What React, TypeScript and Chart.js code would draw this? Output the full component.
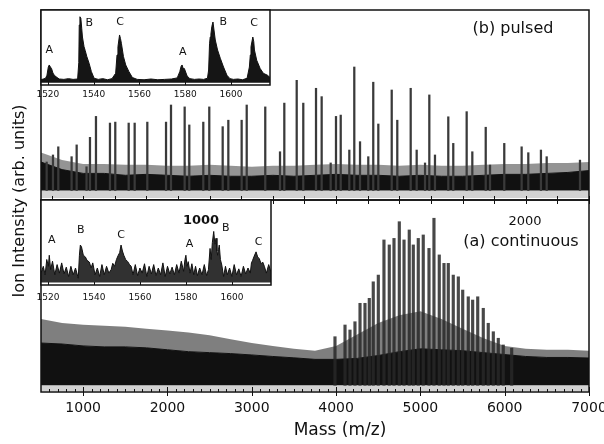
import { useEffect, useRef } from 'react';
import { Chart, registerables } from 'chart.js';
import type { ChartConfiguration, Plugin } from 'chart.js';

Chart.register(...registerables);

const FONT = '"DejaVu Sans", "Liberation Sans", sans-serif';

// Axis tick labels (m/z)
const MASS_TICKS = [1000, 2000, 3000, 4000, 5000, 6000, 7000];
const INSET_TICKS = [1520, 1540, 1560, 1580, 1600];

// (b) pulsed: cluster peak positions (m/z) and heights (arb. units)
const PULSED_MASS = [
  567, 642, 705, 863, 923, 1040, 1081, 1152, 1318, 1381, 1540, 1611, 1761, 1983, 2042,
  2204, 2259, 2425, 2496, 2655, 2722, 2880, 2940, 3160, 3335, 3386, 3533, 3611, 3762,
  3829, 3936, 3999, 4055, 4157, 4216, 4284, 4382, 4441, 4501, 4660, 4726, 4885, 4956,
  5055, 5106, 5173, 5331, 5390, 5549, 5616, 5775, 5826, 5995, 6201, 6280, 6430, 6498, 6893,
];
const PULSED_HEIGHT = [
  20, 23.7, 28, 22.8, 29, 17.5, 33, 44, 40.5, 41, 40.5, 40.5, 41, 41, 50,
  49, 39.5, 41, 49, 38.6, 42, 42, 50, 49, 25.4, 51, 63, 51, 58.8,
  54.4, 19.5, 44, 44.7, 26.3, 70, 30.7, 22.8, 62, 40, 57.9, 42, 58.8, 26.3,
  19.5, 55.3, 23.7, 43.8, 29.8, 46.5, 25.4, 38.3, 18.4, 29.8, 28, 24.9, 26.3, 22.8, 21,
];

// (a) continuous: cluster peak positions (m/z) and heights (arb. units)
const CONT_MASS = [
  3987, 4106, 4165, 4224, 4284, 4343, 4394, 4441, 4501, 4568, 4631, 4687, 4750, 4806,
  4868, 4916, 4975, 5034, 5102, 5161, 5224, 5280, 5331, 5390, 5450, 5502, 5568, 5620,
  5680, 5746, 5805, 5865, 5924, 5983, 6083,
];
const CONT_HEIGHT = [
  28.8, 34.9, 32.3, 36.6, 46.2, 46.2, 48.8, 57.4, 60.9, 79.2, 76.6, 80, 88.7, 79.2,
  84.4, 76.6, 80, 81.8, 74.8, 90.5, 71.4, 67, 67, 60.9, 60, 53.1, 49.6, 47.9,
  49.6, 43.6, 35.8, 31.4, 28, 24.5, 22.8,
];

// Noise envelope of both spectra, sampled along m/z
const ENV_MASS = [
  500, 750, 1000, 1250, 1500, 1750, 2000, 2250, 2500, 2750, 3000, 3250, 3500, 3750,
  4000, 4250, 4500, 4750, 5000, 5250, 5500, 5750, 6000, 6250, 6500, 6750, 7000,
];
const PULSED_NOISE_TOP = [
  20, 16, 14, 14, 13, 13.5, 13, 12.5, 13, 12.5, 12.5, 13, 12.5, 13,
  13.5, 13, 13, 12.5, 13, 12.5, 12.5, 13, 13.5, 13.5, 14, 14.5, 15.5,
];
const PULSED_SPIKE_TOP = [
  25, 21, 19, 19, 18.5, 18.5, 18, 18, 18.5, 18, 17.5, 18, 18, 18.5,
  19, 18.5, 18.5, 18, 18.5, 18, 18, 18.5, 19, 19, 19.5, 19.5, 20,
];
const CONT_NOISE_TOP = [
  25.5, 25, 24, 23.5, 23.5, 23, 22, 21, 20.5, 20, 19.3, 18.5, 17.8, 17,
  17, 17.5, 19, 21, 22.5, 22, 21.5, 20.5, 19.5, 18.5, 18, 18, 17.7,
];
const CONT_SPIKE_TOP = [
  38, 36, 35, 34.5, 34, 33, 32, 31, 29.5, 27.5, 25.5, 24, 22.5, 21.5,
  24, 30, 36, 40, 42, 38, 33, 28, 24, 22.5, 22, 22, 21.5,
];

// Inset traces, m/z 1517-1617: [m/z, intensity]
const PULSED_INSET: [number, number][] = [
  [1517, 7], [1518, 8], [1519, 9], [1519.6, 13], [1520.2, 24], [1520.6, 26.7], [1521.1, 24],
  [1521.6, 22], [1522.2, 16], [1522.8, 13], [1524, 10], [1525, 8], [1527, 7.5], [1529, 8.5],
  [1531, 7.5], [1533, 8], [1533.5, 30], [1533.7, 80], [1534.0, 91], [1534.4, 89], [1534.8, 75],
  [1535.1, 64], [1535.8, 51], [1536.3, 46], [1537, 38], [1538, 29], [1539, 17.8], [1540.2, 9],
  [1542, 7.5], [1544, 8.5], [1546, 7], [1548, 8.5], [1549.6, 15.6], [1550.2, 40], [1550.6, 51],
  [1551.3, 66.7], [1551.7, 62], [1552.1, 55.6], [1553, 38], [1554, 26.7], [1555.4, 17.8],
  [1556.9, 10], [1559, 7.5], [1562, 7], [1565, 8], [1568, 7], [1571, 7.5], [1574, 8],
  [1576.5, 9.5], [1577.6, 17.8], [1578.2, 25], [1578.6, 26.7], [1579.1, 22], [1579.6, 22],
  [1580.8, 12], [1582, 8.5], [1584, 7.5], [1586, 8], [1588, 7.5], [1589.7, 9], [1590.2, 20],
  [1590.6, 55], [1590.9, 64], [1591.2, 68], [1591.6, 78], [1592.1, 84], [1592.6, 72],
  [1593.1, 60], [1594.1, 46.7], [1595.3, 35.6], [1596.7, 24], [1598.2, 13], [1599.5, 8.5],
  [1601, 7.5], [1603, 8], [1605, 7], [1607, 9], [1608, 24], [1608.4, 40], [1608.7, 51],
  [1609.5, 64], [1609.9, 58], [1610.2, 46.7], [1611.2, 33], [1612.7, 22], [1614.1, 15.6],
  [1615.9, 13], [1617, 10],
];
const CONT_INSET: [number, number][] = [
  [1517, 14], [1518, 22], [1518.8, 12], [1519.5, 30], [1520.2, 22], [1520.6, 35], [1521.2, 18],
  [1522, 28], [1523, 12], [1524, 24], [1525, 14], [1526, 26], [1527, 13], [1528, 21], [1529, 10],
  [1530, 22], [1531, 12], [1532, 20], [1533.2, 8], [1533.7, 35], [1534.1, 47], [1534.6, 45],
  [1535.4, 35], [1536.3, 33], [1537, 29], [1538, 27], [1538.8, 20], [1539.5, 26], [1540.5, 12],
  [1541.5, 20], [1542.5, 10], [1543.5, 24], [1544.5, 12], [1545.5, 22], [1546.5, 14],
  [1547.5, 18], [1548.2, 25.5], [1549, 22], [1549.8, 30], [1550.6, 35], [1551.2, 38],
  [1551.8, 47], [1552.4, 40], [1553, 35], [1553.8, 30], [1554.7, 27.5], [1555.5, 24],
  [1556.2, 22], [1557, 12], [1558, 24], [1559, 11], [1560, 20], [1561, 14], [1562, 25],
  [1563, 10], [1564, 22], [1565, 13], [1566, 24], [1567, 11], [1568, 20], [1569, 12],
  [1570, 26], [1571, 10], [1572, 22], [1573, 13], [1574, 21], [1575, 12], [1576, 24],
  [1577, 14], [1578, 28], [1579, 16], [1579.6, 30], [1580, 35], [1580.5, 22], [1581, 27.5],
  [1581.8, 14], [1582.6, 25], [1583.4, 12], [1584.2, 22], [1585, 11], [1586, 20], [1587, 12],
  [1588, 24], [1589, 11], [1589.8, 18], [1590.5, 43], [1591, 30], [1591.5, 50], [1592.1, 63],
  [1592.6, 48], [1593.1, 55], [1593.5, 40], [1593.8, 35], [1594.2, 42], [1594.5, 47],
  [1595, 30], [1595.6, 23.5], [1596.4, 10], [1597.2, 22], [1598, 12], [1599, 20], [1600, 10],
  [1601, 24], [1602, 12], [1603, 19], [1604, 10], [1605, 22], [1606, 13], [1607, 20],
  [1608, 14], [1608.5, 26], [1609, 29], [1609.7, 34], [1610.5, 39], [1611.2, 33],
  [1611.9, 31], [1612.7, 25], [1613.4, 27], [1614.1, 22], [1615, 14], [1616, 24], [1617, 15],
];

// Peak-series labels in the insets: [letter, m/z, intensity]
const PULSED_INSET_LABELS: [string, number, number][] = [
  ['A', 1520.6, 46.7], ['B', 1538.1, 82], ['C', 1551.5, 84.4],
  ['A', 1578.9, 44.4], ['B', 1596.6, 84.4], ['C', 1610, 82],
];
const CONT_INSET_LABELS: [string, number, number][] = [
  ['A', 1521.7, 52.9], ['B', 1534.3, 64.7], ['C', 1551.8, 58.8],
  ['A', 1581.6, 47.9], ['B', 1597.3, 66.7], ['C', 1611.6, 50.9],
];

function steps(from: number, to: number, step: number): number[] {
  const out: number[] = [];
  for (let v = from; step > 0 ? v <= to : v >= to; v += step) out.push(v);
  return out;
}
const MINOR_TICKS = steps(600, 6900, 100);
const MID_TICKS = steps(7000, 600, -375);

interface TickRow { edge: 'top' | 'bottom'; values: number[]; inward: number; outward: number }
interface TextItem { text: string; x: number; y: number; size: number; bold?: boolean; rotate?: boolean }
interface DecorOptions {
  whiteBg?: boolean;
  ticks: TickRow[];
  texts?: TextItem[];
  peakLabels?: [string, number, number][];
  peakLabelSize?: number;
}

function decor(id: string, o: DecorOptions): Plugin {
  return {
    id,
    beforeDraw(chart) {
      if (!o.whiteBg) return;
      const { ctx, chartArea: a } = chart;
      ctx.save();
      ctx.fillStyle = '#ffffff';
      ctx.fillRect(a.left, a.top, a.right - a.left, a.bottom - a.top);
      ctx.restore();
    },
    afterDraw(chart) {
      const { ctx, chartArea: a } = chart;
      const xs = chart.scales.x;
      const ys = chart.scales.y;
      ctx.save();
      ctx.strokeStyle = '#111';
      ctx.lineWidth = 1.5;
      ctx.strokeRect(a.left, a.top, a.right - a.left, a.bottom - a.top);
      ctx.lineWidth = 1;
      for (const row of o.ticks) {
        const edgeY = row.edge === 'top' ? a.top : a.bottom;
        const dir = row.edge === 'top' ? 1 : -1;
        ctx.beginPath();
        for (const v of row.values) {
          const px = Math.round(xs.getPixelForValue(v)) + 0.5;
          ctx.moveTo(px, edgeY - dir * row.outward);
          ctx.lineTo(px, edgeY + dir * row.inward);
        }
        ctx.stroke();
      }
      ctx.fillStyle = '#111';
      ctx.textAlign = 'center';
      ctx.textBaseline = 'middle';
      for (const t of o.texts ?? []) {
        ctx.font = `${t.bold ? 'bold ' : ''}${t.size}px ${FONT}`;
        if (t.rotate) {
          ctx.save();
          ctx.translate(t.x, t.y);
          ctx.rotate(-Math.PI / 2);
          ctx.fillText(t.text, 0, 0);
          ctx.restore();
        } else {
          ctx.fillText(t.text, t.x, t.y);
        }
      }
      ctx.font = `${o.peakLabelSize ?? 11}px ${FONT}`;
      for (const [text, m, v] of o.peakLabels ?? []) {
        ctx.fillText(text, xs.getPixelForValue(m), ys.getPixelForValue(v));
      }
      ctx.restore();
    },
  };
}

interface SpectrumParams {
  mass: number[];
  height: number[];
  floor: number;
  combLow: number;
  noiseTop: number[];
  spikeTop: number[];
  stickWidth: number;
  stickColor: string;
  hazeColor: string;
  padTop: number;
  padBottom: number;
  showAxis: boolean;
  plugin: Plugin;
}

function spectrumConfig(p: SpectrumParams): ChartConfiguration {
  const xAxis: any = {
    type: 'linear',
    min: 500,
    max: 7000,
    offset: false,
    display: p.showAxis,
    grid: { display: false, drawTicks: false, offset: false },
    border: { display: false },
    afterBuildTicks: (s: any) => {
      s.ticks = MASS_TICKS.map((value) => ({ value }));
    },
    ticks: {
      autoSkip: false,
      maxRotation: 0,
      padding: 8,
      color: '#111',
      font: { family: FONT, size: 14 },
      callback: (v: any) => String(v),
    },
  };
  if (p.showAxis) {
    xAxis.afterFit = (s: any) => {
      s.height = 52;
      s.paddingLeft = 0;
      s.paddingRight = 0;
    };
  }
  return {
    type: 'bar',
    data: {
      datasets: [
        {
          type: 'bar',
          data: p.mass.map((m, i) => ({ x: m, y: [p.floor, p.height[i]] })) as any,
          backgroundColor: p.stickColor,
          barThickness: p.stickWidth,
          borderWidth: 0,
          grouped: false,
          order: 0,
        },
        {
          type: 'line',
          data: ENV_MASS.map((m, i) => ({ x: m, y: p.noiseTop[i] })),
          borderColor: '#111',
          borderWidth: 1,
          pointRadius: 0,
          fill: { value: p.floor },
          backgroundColor: '#111',
          order: 1,
        },
        {
          type: 'line',
          data: ENV_MASS.map((m, i) => ({ x: m, y: p.spikeTop[i] })),
          borderWidth: 0,
          borderColor: 'rgba(0,0,0,0)',
          pointRadius: 0,
          fill: 1,
          backgroundColor: p.hazeColor,
          order: 2,
        },
        {
          type: 'line',
          data: ENV_MASS.map((m) => ({ x: m, y: p.floor })),
          borderWidth: 0,
          borderColor: 'rgba(0,0,0,0)',
          pointRadius: 0,
          fill: { value: p.combLow },
          backgroundColor: '#d2d2d2',
          order: 3,
        },
      ] as any,
    },
    options: {
      responsive: false,
      animation: false,
      events: [],
      layout: { padding: { left: 41, right: 15, top: p.padTop, bottom: p.padBottom }, autoPadding: false },
      plugins: { legend: { display: false }, tooltip: { enabled: false } },
      scales: {
        x: xAxis,
        y: { type: 'linear', min: 0, max: 100, display: false },
      },
    },
    plugins: [p.plugin],
  };
}

function insetConfig(
  points: [number, number][],
  floor: number,
  fillColor: string,
  pad: { right: number; top: number; bottom: number },
  tickPad: number,
  plugin: Plugin,
): ChartConfiguration {
  return {
    type: 'line',
    data: {
      datasets: [
        {
          data: points.map(([x, y]) => ({ x, y })),
          borderColor: '#111',
          borderWidth: 1,
          pointRadius: 0,
          fill: { value: floor },
          backgroundColor: fillColor,
        },
      ],
    },
    options: {
      responsive: false,
      animation: false,
      events: [],
      layout: { padding: { left: 41, right: pad.right, top: pad.top, bottom: pad.bottom }, autoPadding: false },
      plugins: { legend: { display: false }, tooltip: { enabled: false } },
      scales: {
        x: {
          type: 'linear',
          min: 1517,
          max: 1617,
          grid: { display: false, drawTicks: false },
          border: { display: false },
          afterBuildTicks: (s: any) => {
            s.ticks = INSET_TICKS.map((value) => ({ value }));
          },
          afterFit: (s: any) => {
            s.height = 20;
            s.paddingLeft = 0;
            s.paddingRight = 0;
          },
          ticks: {
            autoSkip: false,
            maxRotation: 0,
            padding: tickPad,
            color: '#111',
            font: { family: FONT, size: 9 },
            callback: (v: any) => String(v),
          },
        } as any,
        y: { type: 'linear', min: 0, max: 100, display: false },
      },
    },
    plugins: [plugin],
  };
}

export default function App() {
  const pulsedRef = useRef<HTMLCanvasElement>(null);
  const contRef = useRef<HTMLCanvasElement>(null);
  const pulsedInsetRef = useRef<HTMLCanvasElement>(null);
  const contInsetRef = useRef<HTMLCanvasElement>(null);

  useEffect(() => {
    const charts: Chart[] = [];

    charts.push(
      new Chart(
        pulsedRef.current!,
        spectrumConfig({
          mass: PULSED_MASS,
          height: PULSED_HEIGHT,
          floor: 5,
          combLow: 1,
          noiseTop: PULSED_NOISE_TOP,
          spikeTop: PULSED_SPIKE_TOP,
          stickWidth: 1.6,
          stickColor: '#3a3a3a',
          hazeColor: 'rgba(0,0,0,0.42)',
          padTop: 10,
          padBottom: 244,
          showAxis: false,
          plugin: decor('pulsedDecor', {
            ticks: [{ edge: 'bottom', values: MID_TICKS, inward: 4, outward: 0 }],
            texts: [{ text: '(b) pulsed', x: 513, y: 29, size: 16 }],
          }),
        }),
      ),
    );

    charts.push(
      new Chart(
        contRef.current!,
        spectrumConfig({
          mass: CONT_MASS,
          height: CONT_HEIGHT,
          floor: 3.5,
          combLow: 0.5,
          noiseTop: CONT_NOISE_TOP,
          spikeTop: CONT_SPIKE_TOP,
          stickWidth: 2.5,
          stickColor: 'rgba(40,40,40,0.85)',
          hazeColor: 'rgba(0,0,0,0.5)',
          padTop: 200,
          padBottom: 0,
          showAxis: true,
          plugin: decor('contDecor', {
            ticks: [
              { edge: 'top', values: MID_TICKS, inward: 4, outward: 0 },
              { edge: 'bottom', values: MINOR_TICKS, inward: 3, outward: 0 },
              { edge: 'bottom', values: MASS_TICKS, inward: 5, outward: 4 },
            ],
            texts: [
              { text: '2000', x: 525, y: 222, size: 13 },
              { text: '(a) continuous', x: 521, y: 242, size: 16 },
              { text: 'Mass (m/z)', x: 340, y: 431, size: 17 },
              { text: 'Ion Intensity (arb. units)', x: 20, y: 201, size: 16, rotate: true },
            ],
          }),
        }),
      ),
    );

    charts.push(
      new Chart(
        pulsedInsetRef.current!,
        insetConfig(PULSED_INSET, 3, '#151515', { right: 334, top: 10, bottom: 339 }, 4,
          decor('pulsedInsetDecor', {
            whiteBg: true,
            ticks: [{ edge: 'bottom', values: INSET_TICKS, inward: 3, outward: 0 }],
            peakLabels: PULSED_INSET_LABELS,
          }),
        ),
      ),
    );

    charts.push(
      new Chart(
        contInsetRef.current!,
        insetConfig(CONT_INSET, 3, 'rgba(20,20,20,0.88)', { right: 333, top: 200, bottom: 139 }, 7,
          decor('contInsetDecor', {
            whiteBg: true,
            ticks: [{ edge: 'bottom', values: INSET_TICKS, inward: 3, outward: 0 }],
            peakLabels: CONT_INSET_LABELS,
            texts: [{ text: '1000', x: 201, y: 221, size: 13, bold: true }],
          }),
        ),
      ),
    );

    return () => charts.forEach((c) => c.destroy());
  }, []);

  const canvasStyle = { position: 'absolute' as const, left: 0, top: 0 };
  return (
    <div style={{ position: 'absolute', left: 0, top: 0, width: 604, height: 444, background: '#ffffff', overflow: 'hidden' }}>
      <canvas ref={pulsedRef} width={604} height={444} style={canvasStyle} />
      <canvas ref={contRef} width={604} height={444} style={canvasStyle} />
      <canvas ref={pulsedInsetRef} width={604} height={444} style={canvasStyle} />
      <canvas ref={contInsetRef} width={604} height={444} style={canvasStyle} />
    </div>
  );
}
